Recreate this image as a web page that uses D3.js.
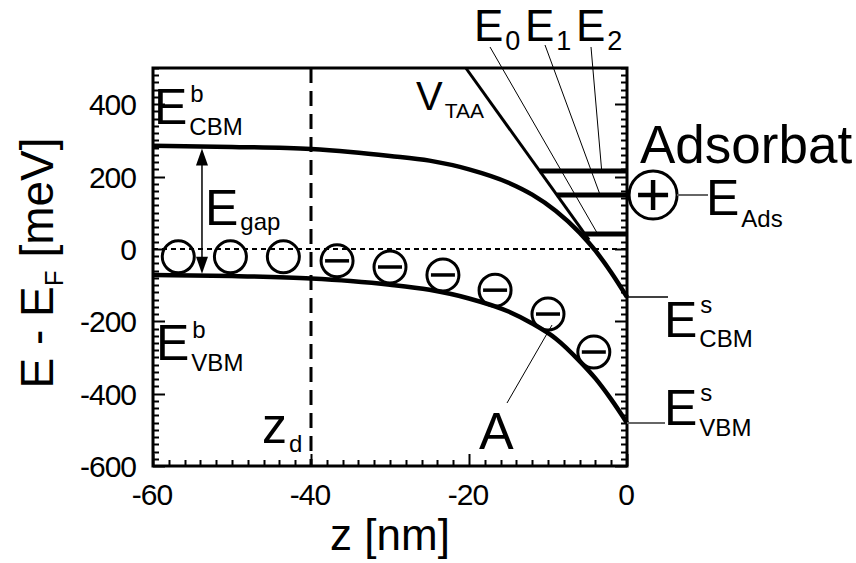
<!DOCTYPE html>
<html>
<head>
<meta charset="utf-8">
<script src="https://cdn.jsdelivr.net/npm/d3@7"></script>
<style>
  body { margin: 0; background: #fff; }
  svg text { font-family: "Liberation Sans", Arial, Helvetica, sans-serif; fill: #000; }
</style>
</head>
<body>
<svg id="chart" width="856" height="563"></svg>
<script>
// band edges (z in nm, energy in meV)
var zGrid = [-60, -50, -40, -35, -30, -25, -20, -15, -12, -9, -6, -4, -2, 0];
var cbmE  = [285, 282, 276, 268, 257, 244, 220, 183, 150, 105, 45, -5, -65, -133];
var vbmE  = [-72, -75, -82, -89, -99, -113, -137, -173, -206, -248, -310, -358, -416, -481];

// empty donor sites and ionised (negative) ones
var emptyZ = [-56.8, -50.2, -43.5];
var emptyE = [-22, -22, -22];
var electronZ = [-36.7, -30, -23.3, -16.7, -10, -4.2];
var electronE = [-33, -50, -72, -114, -180, -285];

// triangular accumulation potential and its levels
var vTaaZ = [-20.4, -4.8];
var vTaaE = [500, 25];
var levelE = [41, 149, 215];
var levelNames = ["0", "1", "2"];

var adsZ = 3.3, adsE = 149;
var zDepletion = -40;

var xTickLabels = [-60, -40, -20, 0];
var yTickLabels = [-600, -400, -200, 0, 200, 400];

var svg = d3.select("#chart");
var x = d3.scaleLinear().domain([-60, 0]).range([153, 627]);
var y = d3.scaleLinear().domain([-600, 500]).range([466, 68]);

function interp(zs, es, z) {
  for (var i = 1; i < zs.length; i++) {
    if (z <= zs[i]) {
      var t = (z - zs[i - 1]) / (zs[i] - zs[i - 1]);
      return es[i - 1] + t * (es[i] - es[i - 1]);
    }
  }
  return es[es.length - 1];
}
// z where the V_TAA line reaches energy e
function vTaaAt(e) {
  return vTaaZ[0] + (e - vTaaE[0]) * (vTaaZ[1] - vTaaZ[0]) / (vTaaE[1] - vTaaE[0]);
}

// ---- ticks, all pointing into the frame ----
var yMinor = d3.range(-600, 501, 20);
var xMinor = d3.range(-60, 0.1, 2);
var ticks = svg.append("g").attr("stroke", "#000").attr("stroke-width", 2);

function tickLen(v, majors) { return majors.indexOf(v) >= 0 ? 12 : 6; }

[x(-60), x(0)].forEach(function (xp, side) {
  var dir = side === 0 ? 1 : -1;
  ticks.selectAll(null).data(yMinor).enter().append("line")
    .attr("x1", xp).attr("x2", function (d) { return xp + dir * tickLen(d, yTickLabels); })
    .attr("y1", function (d) { return Math.round(y(d)) + 0.5; })
    .attr("y2", function (d) { return Math.round(y(d)) + 0.5; });
});
ticks.selectAll(null).data(xMinor).enter().append("line")
  .attr("x1", function (d) { return Math.round(x(d)) + 0.5; })
  .attr("x2", function (d) { return Math.round(x(d)) + 0.5; })
  .attr("y1", y(-600)).attr("y2", function (d) { return y(-600) - tickLen(d, xTickLabels); });

svg.selectAll(".ylab").data(yTickLabels).enter().append("text")
  .attr("x", 136).attr("y", function (d) { return y(d) + 11; })
  .attr("text-anchor", "end").attr("font-size", 30).attr("letter-spacing", -1)
  .text(function (d) { return String(d); });
svg.selectAll(".xlab").data(xTickLabels).enter().append("text")
  .attr("x", function (d) { return x(d) - 1; }).attr("y", 505)
  .attr("text-anchor", "middle").attr("font-size", 30).attr("letter-spacing", -1)
  .text(function (d) { return String(d); });

svg.append("rect")
  .attr("x", x(-60)).attr("y", y(500))
  .attr("width", x(0) - x(-60)).attr("height", y(-600) - y(500))
  .attr("fill", "none").attr("stroke", "#000").attr("stroke-width", 3);

// axis titles
svg.append("text").attr("x", x(-30)).attr("y", 550)
  .attr("text-anchor", "middle").attr("font-size", 44).text("z [nm]");

var yt = svg.append("text").attr("transform", "translate(53,263) rotate(-90)")
  .attr("text-anchor", "middle").attr("font-size", 46);
yt.append("tspan").text("E - E");
yt.append("tspan").attr("font-size", 26).attr("dy", 10).text("F");
yt.append("tspan").attr("dy", -10).text(" [meV]");

// ---- reference lines ----
svg.append("line")
  .attr("x1", x(-60)).attr("x2", x(0)).attr("y1", y(0)).attr("y2", y(0))
  .attr("stroke", "#000").attr("stroke-width", 2).attr("stroke-dasharray", "5,4");
svg.append("line")
  .attr("x1", x(zDepletion)).attr("x2", x(zDepletion)).attr("y1", y(500)).attr("y2", y(-600))
  .attr("stroke", "#000").attr("stroke-width", 3).attr("stroke-dasharray", "15,8");

// ---- bands ----
var band = d3.line().x(function (d) { return x(d[0]); }).y(function (d) { return y(d[1]); })
  .curve(d3.curveMonotoneX);
[cbmE, vbmE].forEach(function (es) {
  svg.append("path").datum(d3.zip(zGrid, es)).attr("d", band)
    .attr("fill", "none").attr("stroke", "#000").attr("stroke-width", 4.5);
});

// V_TAA
svg.append("line")
  .attr("x1", x(vTaaZ[0])).attr("y1", y(vTaaE[0]))
  .attr("x2", x(vTaaZ[1])).attr("y2", y(vTaaE[1]))
  .attr("stroke", "#000").attr("stroke-width", 3);

// levels E0..E2
svg.selectAll(".level").data(levelE).enter().append("line")
  .attr("class", "level")
  .attr("x1", function (d) { return x(vTaaAt(d)); }).attr("x2", x(0))
  .attr("y1", function (d) { return y(d); }).attr("y2", function (d) { return y(d); })
  .attr("stroke", "#000").attr("stroke-width", 5);

// gap arrow
var zArrow = -53.8;
var aTop = y(interp(zGrid, cbmE, zArrow)) + 2, aBot = y(interp(zGrid, vbmE, zArrow)) - 2;
svg.append("line").attr("x1", x(zArrow)).attr("x2", x(zArrow))
  .attr("y1", aTop + 12).attr("y2", aBot - 12).attr("stroke", "#000").attr("stroke-width", 1.5);
svg.append("path").attr("fill", "#000")
  .attr("d", "M" + x(zArrow) + "," + aTop + "l-6,17h12z");
svg.append("path").attr("fill", "#000")
  .attr("d", "M" + x(zArrow) + "," + aBot + "l-6,-17h12z");

// donors
var R = 16;
svg.selectAll(".empty").data(d3.zip(emptyZ, emptyE)).enter().append("circle")
  .attr("cx", function (d) { return x(d[0]); }).attr("cy", function (d) { return y(d[1]); })
  .attr("r", R).attr("fill", "none").attr("stroke", "#000").attr("stroke-width", 3);
var el = svg.selectAll(".electron").data(d3.zip(electronZ, electronE)).enter().append("g")
  .attr("transform", function (d) { return "translate(" + x(d[0]) + "," + y(d[1]) + ")"; });
el.append("circle").attr("r", R).attr("fill", "none").attr("stroke", "#000").attr("stroke-width", 3);
el.append("line").attr("x1", -12).attr("x2", 12).attr("stroke", "#000").attr("stroke-width", 3.5);

// adsorbate
var ads = svg.append("g").attr("transform", "translate(" + x(adsZ) + "," + y(adsE) + ")");
ads.append("circle").attr("r", 24).attr("fill", "none").attr("stroke", "#000").attr("stroke-width", 3);
ads.append("line").attr("x1", -15).attr("x2", 15).attr("stroke", "#000").attr("stroke-width", 4.5);
ads.append("line").attr("y1", -15).attr("y2", 15).attr("stroke", "#000").attr("stroke-width", 4.5);

// ---- annotations ----
function sym(px, py, base, fs, sup, sub, subFs, supDy, subDy) {
  var t = svg.append("text").attr("x", px).attr("y", py).attr("font-size", fs).text(base);
  var adv = t.node().getComputedTextLength();
  if (sup) svg.append("text").attr("x", px + adv + 3).attr("y", py + supDy)
    .attr("font-size", subFs).text(sup);
  if (sub) svg.append("text").attr("x", px + adv + 2).attr("y", py + subDy)
    .attr("font-size", subFs).text(sub);
}
function pointer(x1, y1, x2, y2, col, w) {
  svg.append("line").attr("x1", x1).attr("y1", y1).attr("x2", x2).attr("y2", y2)
    .attr("stroke", col || "#000").attr("stroke-width", w || 1);
}

sym(154, 124, "E", 50, "b", "CBM", 24, -22, 11);
sym(156, 360, "E", 50, "b", "VBM", 24, -22, 11);
sym(205, 225, "E", 50, null, "gap", 24, 0, 5);
sym(262, 443, "z", 50, null, "d", 24, 0, 9);
sym(416, 110, "V", 40, null, "TAA", 21, 0, 8);
svg.append("text").attr("x", 479).attr("y", 449).attr("font-size", 52).text("A");

levelNames.forEach(function (n, i) {
  sym(474 + i * 51, 41, "E", 44, null, n, 27, 0, 9);
});
var labelFoot = [[490, 47], [545, 45], [591, 47]];
var footZ = [-3.7, -3.4, -3.2];
levelE.forEach(function (e, i) {
  pointer(labelFoot[i][0], labelFoot[i][1], x(footZ[i]), y(e));
});

svg.append("text").attr("x", 640).attr("y", 163).attr("font-size", 53).text("Adsorbat");
pointer(x(adsZ) + 24, y(adsE), 708, y(adsE), "#666", 2);
sym(706, 215, "E", 50, null, "Ads", 24, 0, 12);

var cbmS = y(cbmE[cbmE.length - 1]), vbmS = y(vbmE[vbmE.length - 1]);
pointer(x(0), cbmS, 668, cbmS, "#000", 1.5);
sym(664, 337, "E", 50, "s", "CBM", 24, -24, 10);
pointer(x(0), vbmS, 665, vbmS, "#666", 2);
sym(664, 425, "E", 50, "s", "VBM", 24, -24, 11);

// A points at one of the ionised donors
pointer(507, 403, x(electronZ[4]) + 4, y(electronE[4]) + 11);
</script>
</body>
</html>
